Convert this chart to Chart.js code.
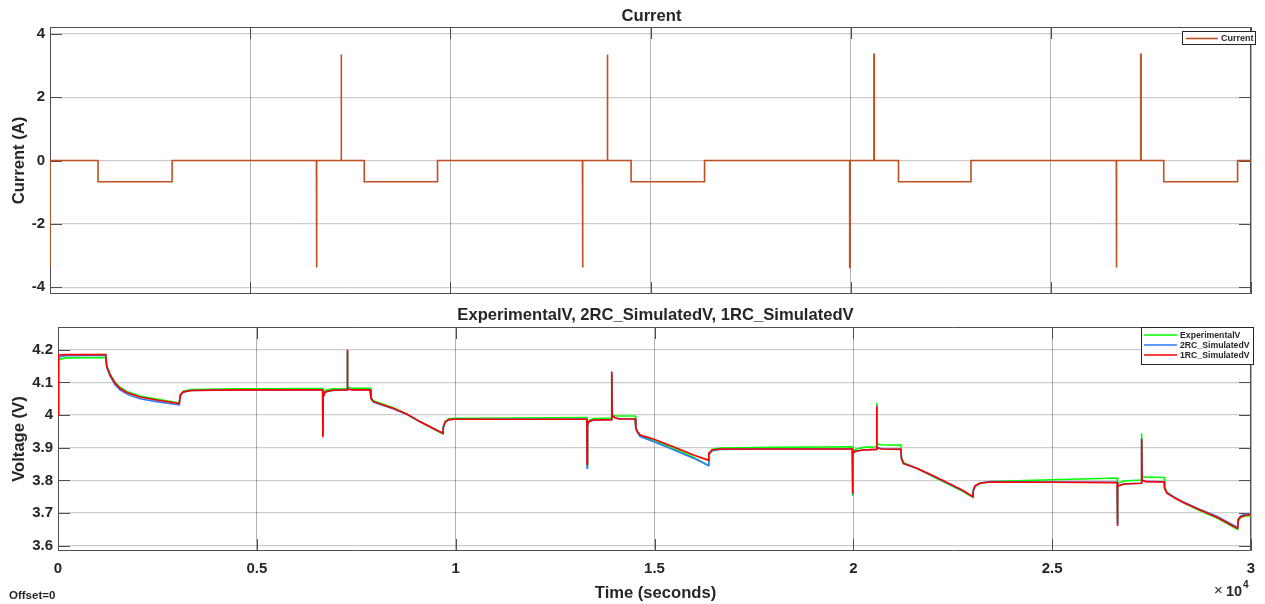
<!DOCTYPE html>
<html>
<head>
<meta charset="utf-8">
<script src="https://cdn.jsdelivr.net/npm/chart.js@4.4.1/dist/chart.umd.min.js"></script>
<style>
  html, body { margin: 0; padding: 0; background: #ffffff; }
  #wrap { position: relative; width: 1265px; height: 604px; overflow: hidden; background: #ffffff; }
  #wrap canvas { position: absolute; left: 0; }
</style>
</head>
<body>
<div id="wrap">
  <canvas id="currentPanel" width="1265" height="300" style="top:0px"></canvas>
  <canvas id="voltagePanel" width="1265" height="304" style="top:300px"></canvas>
</div>
<script>
// ---- Current profile (time in s, current in A) ----
const currentTime = [
  0, 0, 1200, 1200, 3050, 3050,
  6655, 6655, 6665, 6665, 7270, 7270, 7280, 7280, 7850, 7850, 9680, 9680,
  13300, 13300, 13310, 13310, 13920, 13920, 13930, 13930, 14515, 14515, 16350, 16350,
  19975, 19975, 19985, 19985, 20580, 20580, 20590, 20590, 21195, 21195, 23005, 23005,
  26635, 26635, 26645, 26645, 27245, 27245, 27255, 27255, 27820, 27820, 29665, 29665, 30000
];
const currentAmps = [
  -3.38, 0, 0, -0.67, -0.67, 0,
  0, -3.38, -3.38, 0, 0, 3.35, 3.35, 0, 0, -0.67, -0.67, 0,
  0, -3.38, -3.38, 0, 0, 3.35, 3.35, 0, 0, -0.67, -0.67, 0,
  0, -3.38, -3.38, 0, 0, 3.35, 3.35, 0, 0, -0.67, -0.67, 0,
  0, -3.38, -3.38, 0, 0, 3.35, 3.35, 0, 0, -0.67, -0.67, 0, 0
];

// ---- Terminal voltage: measured vs. 2RC and 1RC model outputs ----
const voltTime = [
  0, 15, 200, 1200, 1225, 1310, 1435, 1560, 1730, 2060, 2480, 3050,
  3075, 3150, 3350, 4500, 6655, 6660, 6670, 6720, 6900, 7270, 7275, 7285, 7400, 7850,
  7870, 7930, 8180, 8430, 8770, 9100, 9600, 9680,
  9690, 9735, 9820, 9950, 11500, 13300, 13305, 13315, 13340, 13460, 13920, 13925, 13935, 14000, 14100, 14515,
  14530, 14570, 14640, 14970, 15475, 15980, 16350,
  16365, 16450, 16650, 18000, 19975, 19980, 19990, 20050, 20250, 20580, 20585, 20595, 20700, 21195,
  21210, 21260, 21600, 22010, 22430, 22770, 23005,
  23020, 23065, 23190, 23440, 25000, 26635, 26640, 26650, 26800, 27245, 27250, 27260, 27350, 27820,
  27825, 27885, 28095, 28300, 28720, 29140, 29630, 29665,
  29680, 29740, 29860, 30000
];
const experimentalV = [
  4.165, 4.170, 4.175, 4.176, 4.152, 4.125, 4.100, 4.085, 4.072, 4.058, 4.049, 4.037,
  4.060, 4.073, 4.078, 4.080, 4.081, 3.940, 4.058, 4.076, 4.080, 4.081, 4.190, 4.086, 4.082, 4.082,
  4.055, 4.044, 4.033, 4.022, 4.003, 3.979, 3.947, 3.942,
  3.962, 3.980, 3.988, 3.990, 3.991, 3.992, 3.845, 3.970, 3.982, 3.989, 3.991, 4.125, 4.000, 3.998, 3.997, 3.997,
  3.962, 3.950, 3.938, 3.923, 3.898, 3.871, 3.846,
  3.880, 3.895, 3.899, 3.901, 3.903, 3.752, 3.880, 3.895, 3.901, 3.903, 4.038, 3.912, 3.909, 3.908,
  3.870, 3.855, 3.836, 3.811, 3.786, 3.765, 3.748,
  3.770, 3.782, 3.791, 3.796, 3.802, 3.807, 3.670, 3.790, 3.798, 3.801, 3.944, 3.812, 3.810, 3.809,
  3.780, 3.764, 3.746, 3.731, 3.707, 3.685, 3.652, 3.650,
  3.676, 3.686, 3.691, 3.692
];
const simulated2RC = [
  4.000, 4.178, 4.182, 4.183, 4.147, 4.119, 4.093, 4.077, 4.064, 4.050, 4.041, 4.031,
  4.058, 4.070, 4.075, 4.077, 4.077, 3.935, 4.055, 4.071, 4.075, 4.077, 4.198, 4.080, 4.077, 4.077,
  4.050, 4.040, 4.029, 4.019, 4.002, 3.980, 3.949, 3.944,
  3.962, 3.977, 3.985, 3.987, 3.987, 3.987, 3.837, 3.965, 3.978, 3.984, 3.986, 4.130, 3.997, 3.992, 3.989, 3.988,
  3.958, 3.946, 3.934, 3.919, 3.894, 3.868, 3.846,
  3.878, 3.891, 3.895, 3.896, 3.896, 3.756, 3.882, 3.889, 3.893, 3.895, 4.030, 3.902, 3.897, 3.896,
  3.866, 3.851, 3.836, 3.813, 3.788, 3.767, 3.750,
  3.772, 3.784, 3.792, 3.796, 3.795, 3.794, 3.665, 3.783, 3.789, 3.791, 3.930, 3.800, 3.797, 3.796,
  3.778, 3.762, 3.747, 3.734, 3.711, 3.690, 3.658, 3.656,
  3.682, 3.691, 3.696, 3.697
];
const simulated1RC = [
  4.000, 4.184, 4.185, 4.185, 4.149, 4.123, 4.098, 4.082, 4.069, 4.055, 4.046, 4.035,
  4.062, 4.071, 4.075, 4.077, 4.077, 3.932, 4.055, 4.071, 4.076, 4.077, 4.200, 4.080, 4.077, 4.077,
  4.052, 4.041, 4.031, 4.021, 4.003, 3.980, 3.949, 3.944,
  3.964, 3.979, 3.986, 3.987, 3.987, 3.987, 3.850, 3.968, 3.980, 3.985, 3.986, 4.133, 3.999, 3.992, 3.988, 3.988,
  3.960, 3.950, 3.939, 3.927, 3.903, 3.878, 3.862,
  3.883, 3.893, 3.896, 3.896, 3.896, 3.760, 3.883, 3.889, 3.893, 3.895, 4.026, 3.900, 3.896, 3.895,
  3.868, 3.852, 3.837, 3.814, 3.789, 3.768, 3.750,
  3.771, 3.783, 3.791, 3.795, 3.794, 3.793, 3.660, 3.782, 3.789, 3.791, 3.925, 3.800, 3.796, 3.795,
  3.776, 3.761, 3.745, 3.732, 3.709, 3.687, 3.655, 3.653,
  3.679, 3.688, 3.693, 3.695
];

// ---- Axis ticks ----
const timeTicks = [0, 5000, 10000, 15000, 20000, 25000, 30000];
const timeTickLabels = ['0', '0.5', '1', '1.5', '2', '2.5', '3'];
const currentTicks = [-4, -2, 0, 2, 4];
const currentTickLabels = ['-4', '-2', '0', '2', '4'];
const voltTicks = [3.6, 3.7, 3.8, 3.9, 4.0, 4.1, 4.2];
const voltTickLabels = ['3.6', '3.7', '3.8', '3.9', '4', '4.1', '4.2'];

const FONT = '"Liberation Sans", Arial, Helvetica, sans-serif';
const INK = '#262626';
const BOX = '#4f4f4f';
const CURRENT_COLOR = '#c0501f';
const EXP_COLOR = '#00ff00';
const RC2_COLOR = '#2f7bff';
const RC1_COLOR = '#ff0000';

function pts(xs, ys) { return xs.map((x, i) => ({ x: x, y: ys[i] })); }

// Draws the axes box and inward tick marks under the data, then titles and legend on top.
function panelPlugin(opts) {
  return {
    id: 'panelDecor',
    beforeDatasetsDraw(chart) {
      const ctx = chart.ctx, a = chart.chartArea;
      const xs = chart.scales.x, ys = chart.scales.y;
      const L = Math.round(a.left), R = Math.round(a.right), T = Math.round(a.top), B = Math.round(a.bottom);
      ctx.save();
      ctx.strokeStyle = BOX;
      ctx.lineWidth = 1;
      ctx.beginPath();
      ctx.rect(L + 0.5, T + 0.5, R - L - 1, B - T - 1);
      ctx.stroke();
      const tl = 12;
      ctx.beginPath();
      opts.yTicks.forEach(v => {
        const p = Math.round(ys.getPixelForValue(v)) + 0.5;
        ctx.moveTo(L, p); ctx.lineTo(L + tl, p);
        ctx.moveTo(R, p); ctx.lineTo(R - tl, p);
      });
      opts.xTicks.forEach(v => {
        const p = Math.round(xs.getPixelForValue(v)) + 0.5;
        ctx.moveTo(p, B); ctx.lineTo(p, B - tl);
        ctx.moveTo(p, T); ctx.lineTo(p, T + tl);
      });
      ctx.stroke();
      ctx.restore();
    },
    afterDraw(chart) {
      const ctx = chart.ctx, a = chart.chartArea;
      ctx.save();
      ctx.fillStyle = INK;
      // title
      ctx.font = 'bold 16.6px ' + FONT;
      ctx.textAlign = 'center';
      ctx.textBaseline = 'alphabetic';
      ctx.fillText(opts.title, (a.left + a.right) / 2 + 1, opts.titleY);
      // y axis label
      ctx.save();
      ctx.translate(opts.yLabelX, (a.top + a.bottom) / 2);
      ctx.rotate(-Math.PI / 2);
      ctx.textBaseline = 'middle';
      ctx.fillText(opts.yLabel, 0, 0);
      ctx.restore();
      // legend
      const lg = opts.legend;
      ctx.fillStyle = '#ffffff';
      ctx.fillRect(lg.x, lg.y, lg.w, lg.h);
      ctx.strokeStyle = INK;
      ctx.lineWidth = 1;
      ctx.strokeRect(lg.x + 0.5, lg.y + 0.5, lg.w - 1, lg.h - 1);
      ctx.font = 'bold ' + lg.fontSize + 'px ' + FONT;
      ctx.textAlign = 'left';
      ctx.textBaseline = 'middle';
      lg.items.forEach((it, i) => {
        const yy = lg.y + lg.firstRow + i * lg.rowGap;
        ctx.strokeStyle = it.color;
        ctx.lineWidth = 1.6;
        ctx.beginPath();
        ctx.moveTo(lg.x + lg.lineX0, yy);
        ctx.lineTo(lg.x + lg.lineX1, yy);
        ctx.stroke();
        ctx.fillStyle = INK;
        ctx.fillText(it.label, lg.x + lg.textX, yy + 0.5);
      });
      if (opts.extra) opts.extra(ctx, chart);
      ctx.restore();
    }
  };
}

function fixedTicks(values) {
  return scale => { scale.ticks = values.map(v => ({ value: v })); };
}
// Fix an axis box size and stop its labels from pushing the plot area around.
function fixedSize(prop, size) {
  return scale => {
    scale[prop] = size;
    scale.paddingTop = 0; scale.paddingBottom = 0;
    scale.paddingLeft = 0; scale.paddingRight = 0;
  };
}

Chart.defaults.font.family = FONT;
Chart.defaults.color = INK;

// ---- Upper panel: current ----
new Chart(document.getElementById('currentPanel'), {
  type: 'line',
  data: {
    datasets: [{
      label: 'Current',
      data: pts(currentTime, currentAmps),
      borderColor: CURRENT_COLOR,
      borderWidth: 1.6,
      pointRadius: 0,
      tension: 0,
      fill: false
    }]
  },
  options: {
    responsive: false,
    animation: false,
    devicePixelRatio: 1,
    events: [],
    layout: { padding: { left: 0, right: 14, top: 27, bottom: 6 } },
    plugins: { legend: { display: false }, tooltip: { enabled: false }, title: { display: false } },
    scales: {
      x: {
        type: 'linear', min: 0, max: 30000,
        afterBuildTicks: fixedTicks(timeTicks),
        afterFit: fixedSize('height', 0),
        ticks: { display: false },
        grid: { color: 'rgba(0,0,0,0.30)', lineWidth: 1, drawTicks: false },
        border: { display: false }
      },
      y: {
        type: 'linear', min: -4.215, max: 4.215,
        afterBuildTicks: fixedTicks(currentTicks),
        afterFit: fixedSize('width', 50),
        ticks: {
          padding: 5,
          font: { size: 15, weight: 'bold' },
          color: INK,
          callback: (v, i) => currentTickLabels[i]
        },
        grid: { color: 'rgba(0,0,0,0.20)', lineWidth: 1.3, drawTicks: false },
        border: { display: false }
      }
    }
  },
  plugins: [panelPlugin({
    title: 'Current', titleY: 20.5,
    yLabel: 'Current (A)', yLabelX: 19,
    xTicks: timeTicks, yTicks: currentTicks,
    legend: {
      x: 1182, y: 31, w: 74, h: 14, fontSize: 9,
      firstRow: 7.5, rowGap: 10, lineX0: 4, lineX1: 36, textX: 39,
      items: [{ label: 'Current', color: CURRENT_COLOR }]
    }
  })]
});

// ---- Lower panel: voltages ----
new Chart(document.getElementById('voltagePanel'), {
  type: 'line',
  data: {
    datasets: [
      { label: 'ExperimentalV', data: pts(voltTime, experimentalV), borderColor: EXP_COLOR, borderWidth: 1.6, pointRadius: 0, tension: 0, fill: false, order: 3 },
      { label: '2RC_SimulatedV', data: pts(voltTime, simulated2RC), borderColor: RC2_COLOR, borderWidth: 1.6, pointRadius: 0, tension: 0, fill: false, order: 2 },
      { label: '1RC_SimulatedV', data: pts(voltTime, simulated1RC), borderColor: RC1_COLOR, borderWidth: 1.6, pointRadius: 0, tension: 0, fill: false, order: 1 }
    ]
  },
  options: {
    responsive: false,
    animation: false,
    devicePixelRatio: 1,
    events: [],
    layout: { padding: { left: 0, right: 14, top: 27, bottom: 23 } },
    plugins: { legend: { display: false }, tooltip: { enabled: false }, title: { display: false } },
    scales: {
      x: {
        type: 'linear', min: 0, max: 30000,
        afterBuildTicks: fixedTicks(timeTicks),
        afterFit: fixedSize('height', 30),
        ticks: {
          padding: 9, maxRotation: 0, autoSkip: false,
          font: { size: 15, weight: 'bold' },
          color: INK,
          callback: (v, i) => timeTickLabels[i]
        },
        grid: { color: 'rgba(0,0,0,0.30)', lineWidth: 1, drawTicks: false },
        border: { display: false }
      },
      y: {
        type: 'linear', min: 3.5837, max: 4.2696,
        afterBuildTicks: fixedTicks(voltTicks),
        afterFit: fixedSize('width', 58),
        ticks: {
          padding: 5,
          font: { size: 15, weight: 'bold' },
          color: INK,
          callback: (v, i) => voltTickLabels[i]
        },
        grid: { color: 'rgba(0,0,0,0.20)', lineWidth: 1.3, drawTicks: false },
        border: { display: false }
      }
    }
  },
  plugins: [panelPlugin({
    title: 'ExperimentalV, 2RC_SimulatedV, 1RC_SimulatedV', titleY: 19.5,
    yLabel: 'Voltage (V)', yLabelX: 19,
    xTicks: timeTicks, yTicks: voltTicks,
    legend: {
      x: 1141, y: 27, w: 113, h: 38, fontSize: 8.7,
      firstRow: 8, rowGap: 10, lineX0: 3, lineX1: 36, textX: 39,
      items: [
        { label: 'ExperimentalV', color: EXP_COLOR },
        { label: '2RC_SimulatedV', color: RC2_COLOR },
        { label: '1RC_SimulatedV', color: RC1_COLOR }
      ]
    },
    extra: (ctx, chart) => {
      const a = chart.chartArea;
      ctx.fillStyle = INK;
      ctx.textBaseline = 'alphabetic';
      // x label
      ctx.font = 'bold 16.6px ' + FONT;
      ctx.textAlign = 'center';
      ctx.fillText('Time (seconds)', (a.left + a.right) / 2 + 1, 298);
      // offset note
      ctx.font = 'bold 11.5px ' + FONT;
      ctx.textAlign = 'left';
      ctx.fillText('Offset=0', 9, 299);
      // exponent marker
      ctx.font = '15px ' + FONT;
      ctx.fillText('\u00d7', 1214, 295);
      ctx.font = 'bold 14.5px ' + FONT;
      ctx.fillText('10', 1226, 296);
      ctx.font = 'bold 10px ' + FONT;
      ctx.fillText('4', 1243, 288);
    }
  })]
});
</script>
</body>
</html>
